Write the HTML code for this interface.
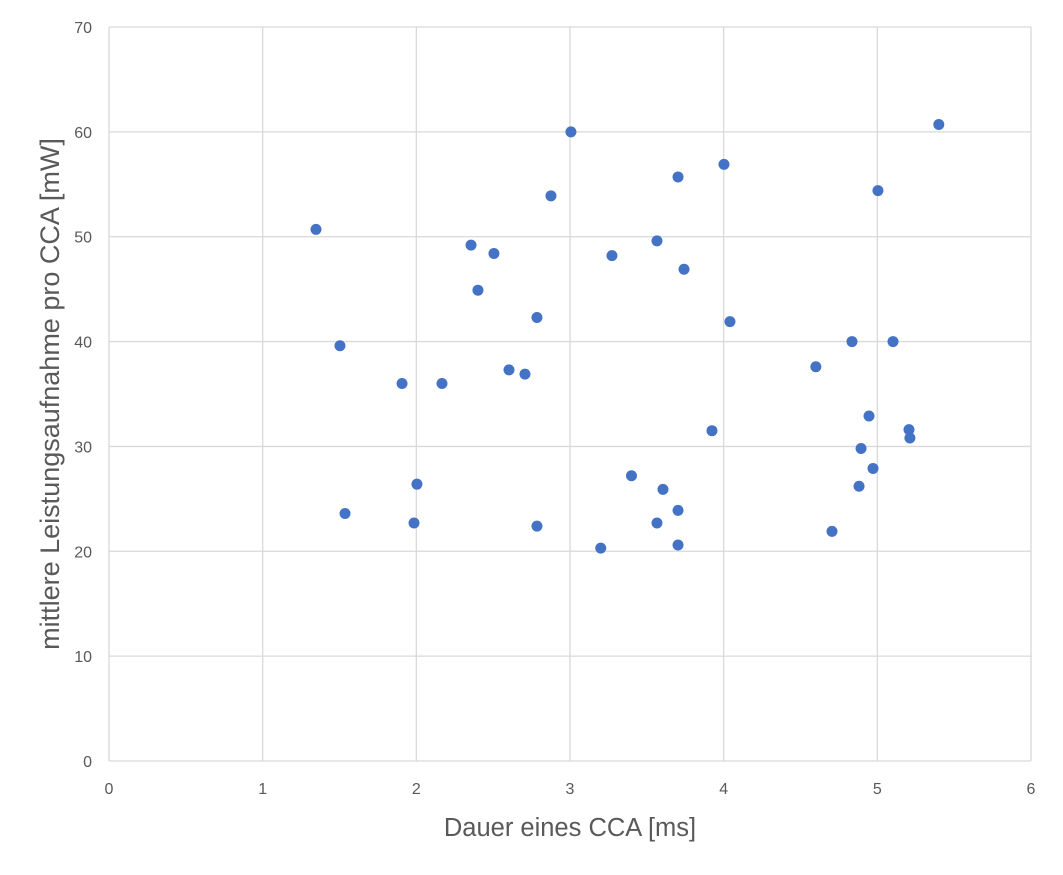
<!DOCTYPE html>
<html><head><meta charset="utf-8"><style>
body{margin:0;background:#fff;font-family:"Liberation Sans",sans-serif;}
svg text{font-family:"Liberation Sans",sans-serif;fill:#595959;}
</style></head><body>
<svg id="chart" width="1063" height="870" xmlns="http://www.w3.org/2000/svg">
<g id="grid"></g>
<g id="ticks"></g>
<g id="points"></g>
<text x="570" y="836" font-size="25.5" text-anchor="middle">Dauer eines CCA [ms]</text>
<text transform="translate(59,394) rotate(-90)" font-size="27" text-anchor="middle">mittlere Leistungsaufnahme pro CCA [mW]</text>
</svg>
<script>
const xTicks=[0,1,2,3,4,5,6];
const yTicks=[0,10,20,30,40,50,60,70];
const xs=[1.347,1.503,1.536,1.907,1.985,2.004,2.167,2.356,2.401,2.505,2.603,2.707,2.785,2.785,2.876,3.006,3.20,3.273,3.40,3.566,3.566,3.605,3.703,3.703,3.703,3.742,3.924,4.002,4.041,4.60,4.705,4.835,4.881,4.894,4.946,4.972,5.004,5.102,5.206,5.212,5.40];
const ys=[50.7,39.6,23.6,36.0,22.7,26.4,36.0,49.2,44.9,48.4,37.3,36.9,42.3,22.4,53.9,60.0,20.3,48.2,27.2,49.6,22.7,25.9,55.7,23.9,20.6,46.9,31.5,56.9,41.9,37.6,21.9,40.0,26.2,29.8,32.9,27.9,54.4,40.0,31.6,30.8,60.7];
const X=v=>109+v*(1031-109)/6, Y=v=>761-v*(761-27)/70;
const NS="http://www.w3.org/2000/svg";
function mk(t,a,p){const e=document.createElementNS(NS,t);for(const k in a)e.setAttribute(k,a[k]);p.appendChild(e);return e;}
const g=document.getElementById('grid'),tk=document.getElementById('ticks'),pt=document.getElementById('points');
xTicks.forEach(v=>{const l=mk('line',{x1:X(v),x2:X(v),y1:Y(70),y2:Y(0),stroke:'#d9d9d9','stroke-width':1.3},g);


const t=mk('text',{x:X(v),y:794,'font-size':16,'text-anchor':'middle'},tk);t.textContent=v;

});
yTicks.forEach(v=>{const l=mk('line',{x1:X(0),x2:X(6),y1:Y(v),y2:Y(v),stroke:'#d9d9d9','stroke-width':1.3},g);


const t=mk('text',{x:92,y:Y(v)+6,'font-size':16,'text-anchor':'end'},tk);t.textContent=v;

});
xs.forEach((v,i)=>{const c=mk('circle',{cx:X(v),cy:Y(ys[i]),r:5.5,fill:'#4472c4'},pt);

});
</script>
</body></html>
